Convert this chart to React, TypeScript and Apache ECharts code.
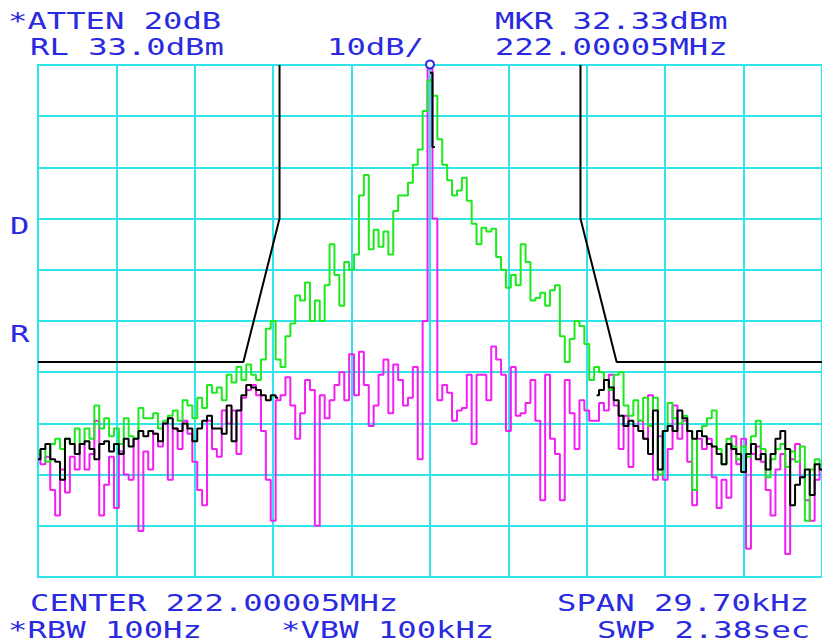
import React, { useEffect, useRef } from "react";
import * as echarts from "echarts";

// ---- Instrument settings ----
const REF_LEVEL_DBM = 33;
const DB_PER_DIV = 10;
const SPAN_KHZ = 29.7;
const POINTS = 161;
const MARKER = [0, 32.33];

// ---- Annotation texts ----
const headerTexts = ["*ATTEN 20dB", "RL 33.0dBm", "10dB/", "MKR 32.33dBm", "222.00005MHz"];
const footerTexts = ["CENTER 222.00005MHz", "SPAN 29.70kHz", "*RBW 100Hz", "*VBW 100kHz", "SWP 2.38sec"];
const sideTexts = ["D", "R"];

// ---- Limit mask (kHz offset, dBm) ----
const maskLeftFreq = [-14.85, -7.07, -5.7, -5.7];
const maskLeftLevel = [-25, -25, 3, 33];
const maskRightFreq = [5.7, 5.7, 7.07, 14.85];
const maskRightLevel = [33, 3, -25, -25];

// ---- Traces (dBm), 161 points across the span ----
const greenTrace = [
  -43, -42, -44.5, -41, -40, -42, -40, -41, -38, -41, -38, -40, -33.5, -38, -36, -39.5, -38, -41, -36, -39.5, -40, -34, -36,
  -36, -35, -38, -36.5, -35.5, -34.5, -36.5, -32.5, -33.5, -36, -32, -34, -29.5, -31, -30, -32.5, -27.5, -29, -26, -28.5,
  -25.5, -27.5, -28.5, -24.5, -18.5, -17, -24.5, -26, -20, -17.5, -12, -13, -9.5, -17, -13, -17, -10, -2, -8, -14, -5.5, -7, -4, 7.5, 11.5, -3,
  0.8, -2.5, 0.5, -4, 4.5, 7.5, 7.5, 10, 13.5, 16.5, 24, 30, 27, 18.5, 13.5, 10.5, 7.5, 8.5, 11, 6.5, 2, -2,
  1.2, 0.5, 1, -4.5, -7, -10.5, -8, -10, -2, -5.5, -13, -12.5, -11.5, -14, -11, -10, -20, -25, -20.5, -17, -18, -21.5, -28.5,
  -26, -27, -28.5, -30.5, -27.5, -27, -33.5, -35.5, -32.5, -36.5, -32, -37.5, -32, -47, -38.5, -33, -36, -37, -35.5, -38.5, -50, -38.5,
  -37.5, -36, -34.5, -42, -45, -40, -41.5, -44, -41.5, -43.5, -39.5, -36.5, -42, -47.5, -44, -42, -41, -45.5, -42.5, -44.5, -41.5, -56, -46, -44, -45,
];

const magentaTrace = [
  -43, -45, -43.5, -50, -55, -46, -50.5, -43.5, -46, -41, -46, -43, -36.5, -55, -49, -43.5, -53.5, -42.5, -47, -48, -40, -58, -42.5,
  -46, -39, -41.5, -37, -48, -38, -42, -36.5, -39, -44.5, -50, -53, -36.5, -42, -43.5, -34.5, -37, -34.5, -43, -32,
  -30.5, -29.5, -31.5, -38.5, -48, -56, -32.5, -31.5, -28, -33.5, -40, -35, -28.5, -30.5, -57, -31.5, -36, -32.5, -29.5, -27, -32.5, -23.5, -31.5, -23, -29.5, -37.5,
  -33.5, -27.5, -24.5, -35, -25.5, -28.5, -33.5, -32, -26, -44, -17, 32.3, 3, -32.5, -29.5, -31, -36.5, -34.5, -34, -27.5, -41, -27.5,
  -27.5, -32.5, -22, -24.5, -27.5, -38.5, -26, -35.5, -35, -33, -28.5, -36.5, -52, -27.5, -40, -43, -52, -28.5, -35, -42, -32.5, -34.5, -36.5,
  -36.5, -33, -34.5, -27.5, -33.5, -42, -35.5, -45.5, -37.5, -36.5, -40, -31.5, -48, -39.5, -48, -42, -33.5, -40, -36.5, -44.5, -53, -40,
  -42, -40, -47.5, -53.5, -48, -51.5, -39.5, -45, -40, -61.5, -43, -41.5, -44.5, -50, -55, -46, -43, -62.5, -44, -41, -47.5, -52, -56, -48, -46,
];

// black trace is only visible on the skirts and at the carrier
const blackLeftStart = 0;
const blackLeft = [
  -44, -42, -41, -44, -44.5, -48, -40, -41, -43, -41, -40.5, -42, -44, -41, -40.5, -42.5, -41, -43, -40, -41.5, -40, -38.5, -39.5,
  -38.5, -39, -40.5, -37, -36, -38, -38.5, -37, -38, -40.5, -38, -36.5, -35.5, -38, -38, -39, -33.5, -40.5, -34.5, -31.5,
  -29.5, -30, -30.5, -31.5, -32.5, -31.5, -32,
];
const blackPeakStart = 80;
const blackPeak = [31.5, 17];
const blackRightStart = 114;
const blackRight = [
  -31.5, -30.5, -28.5, -30, -32.5, -35.5, -37.5, -36.5, -37.5, -38.5, -40, -43, -34.5, -46, -38.5, -37.5, -38.5, -34.5, -36, -38.5, -40, -38.5,
  -39.5, -41, -41.5, -43, -45, -41, -42, -43, -46.5, -43, -41, -44, -43, -46, -43, -40, -38.5, -42, -53, -49, -47.5, -46, -51, -45, -46,
];

const CYAN = "#30e4ea";
const BLUE = "#2a2ae0";
const GREEN = "#1ee81e";
const MAGENTA = "#f21ef2";
const FONT = "DejaVu Sans Mono";

const freqAt = (i: number) => -SPAN_KHZ / 2 + (i * SPAN_KHZ) / (POINTS - 1);
const toPairs = (vals: number[], start: number) => vals.map((v, k) => [freqAt(start + k), v]);

export default function App() {
  const ref = useRef<HTMLDivElement>(null);
  useEffect(() => {
    if (!ref.current) return;
    const chart = echarts.init(ref.current, undefined, { renderer: "svg" });
    const bottom = REF_LEVEL_DBM - 10 * DB_PER_DIV;

    const textPos = {
      header: [[8, 21], [30, 47], [327, 47], [495, 21], [495, 47]],
      footer: [[30, 603], [557, 603], [8, 630], [281, 630], [597, 630]],
      side: [[10, 226], [10, 334]],
    };
    const mkText = (text: string, pos: number[]) => ({
      type: "text",
      x: pos[0],
      y: pos[1],
      scaleX: 1.4,
      z: 10,
      style: {
        text,
        fill: BLUE,
        fontSize: 23,
        fontFamily: FONT,
        verticalAlign: "middle",
        align: "left",
      },
    });

    const traceSeries = (name: string, data: number[][], color: string, z: number) => ({
      type: "line",
      name,
      step: "middle",
      showSymbol: false,
      symbol: "none",
      xAxisIndex: 0,
      yAxisIndex: 0,
      silent: true,
      data,
      lineStyle: { color, width: 2 },
      z,
    });
    const maskSeries = (name: string, freqs: number[], levels: number[]) => ({
      type: "line",
      name,
      symbol: "none",
      silent: true,
      data: freqs.map((f, k) => [f, levels[k]]),
      lineStyle: { color: "#000000", width: 2 },
      z: 6,
    });

    chart.setOption({
      animation: false,
      backgroundColor: "#ffffff",
      grid: {
        left: 38,
        top: 65,
        width: 790,
        height: 512,
        show: true,
        borderColor: CYAN,
        borderWidth: 2,
        backgroundColor: "transparent",
      },
      xAxis: [
        { type: "value", min: -SPAN_KHZ / 2, max: SPAN_KHZ / 2, show: false },
        {
          type: "value",
          min: 0,
          max: 10,
          interval: 1,
          axisLine: { show: false },
          axisTick: { show: false },
          axisLabel: { show: false },
          splitLine: { show: true, lineStyle: { color: CYAN, width: 2 } },
        },
      ],
      yAxis: [
        { type: "value", min: bottom, max: REF_LEVEL_DBM, show: false },
        {
          type: "value",
          min: 0,
          max: 10,
          interval: 1,
          axisLine: { show: false },
          axisTick: { show: false },
          axisLabel: { show: false },
          splitLine: { show: true, lineStyle: { color: CYAN, width: 2 } },
        },
      ],
      series: [
        traceSeries("trace C", toPairs(magentaTrace, 0), MAGENTA, 3),
        traceSeries("trace A", toPairs(greenTrace, 0), GREEN, 4),
        traceSeries("trace B left", toPairs(blackLeft, blackLeftStart), "#000000", 5),
        traceSeries("trace B peak", toPairs(blackPeak, blackPeakStart), "#000000", 5),
        traceSeries("trace B right", toPairs(blackRight, blackRightStart), "#000000", 5),
        maskSeries("limit left", maskLeftFreq, maskLeftLevel),
        maskSeries("limit right", maskRightFreq, maskRightLevel),
        {
          type: "scatter",
          name: "marker",
          data: [MARKER],
          clip: false,
          symbol: "circle",
          symbolSize: 8,
          symbolOffset: [0, -4],
          itemStyle: { color: "#ffffff", borderColor: BLUE, borderWidth: 2, opacity: 1 },
          z: 20,
          zlevel: 0,
          silent: true,
        },
      ],
      graphic: [
        ...headerTexts.map((t, k) => mkText(t, textPos.header[k])),
        ...footerTexts.map((t, k) => mkText(t, textPos.footer[k])),
        ...sideTexts.map((t, k) => mkText(t, textPos.side[k])),
      ],
    });
    return () => chart.dispose();
  }, []);

  return (
    <div
      ref={ref}
      style={{ position: "absolute", left: 0, top: 0, width: 822, height: 643, background: "#fff" }}
    />
  );
}
